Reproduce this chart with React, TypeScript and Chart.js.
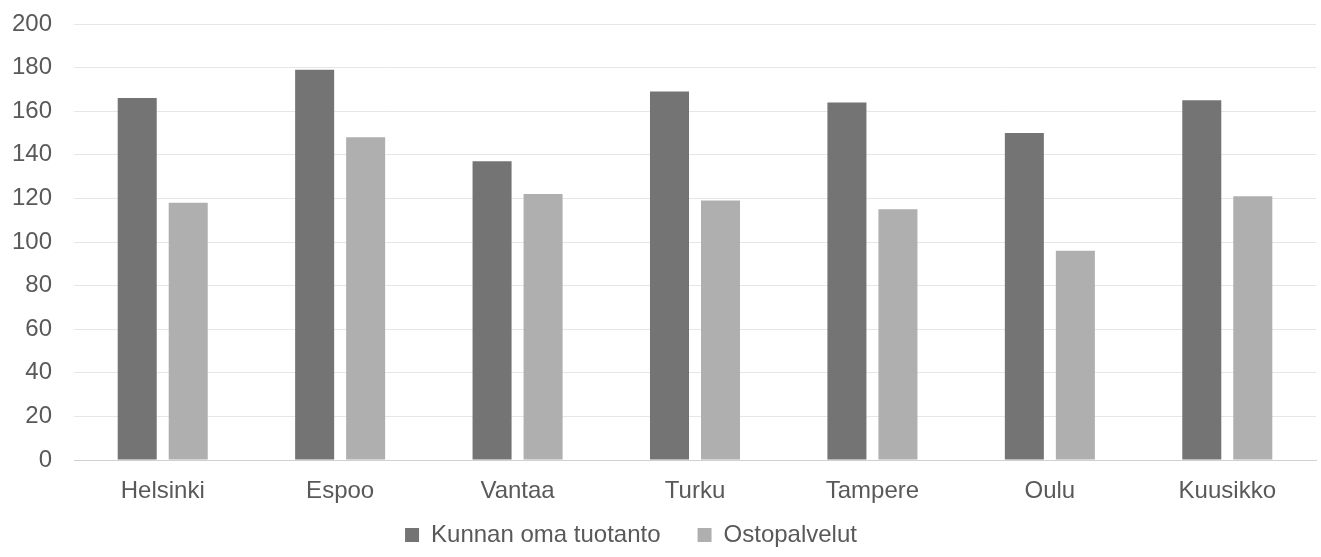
import React, { useEffect, useRef } from "react";
import { Chart, registerables } from "chart.js";

Chart.register(...registerables);

const categories = ["Helsinki", "Espoo", "Vantaa", "Turku", "Tampere", "Oulu", "Kuusikko"];
const seriesNames = ["Kunnan oma tuotanto", "Ostopalvelut"];
const omaTuotanto = [166, 179, 137, 169, 164, 150, 165];
const ostopalvelut = [118, 148, 122, 119, 115, 96, 121];
const yMin = 0;
const yMax = 200;
const yStep = 20;

const FONT = "'Liberation Sans', Arial, sans-serif";
const TEXT = "#595959";

export default function App() {
  const ref = useRef<HTMLCanvasElement | null>(null);

  useEffect(() => {
    if (!ref.current) return;
    const layoutTweaks = {
      id: "layoutTweaks",
      afterLayout(chart: any) {
        if (chart.legend) {
          chart.legend.left -= 27;
          chart.legend.right -= 27;
        }
        const x = chart.scales.x;
        if (x) x.bottom = chart.height;
      },
    };
    const chart = new Chart(ref.current, {
      type: "bar",
      data: {
        labels: categories,
        datasets: [
          {
            label: seriesNames[0],
            data: omaTuotanto,
            backgroundColor: "#747474",
            categoryPercentage: 0.575,
            barPercentage: 0.765,
          },
          {
            label: seriesNames[1],
            data: ostopalvelut,
            backgroundColor: "#afafaf",
            categoryPercentage: 0.575,
            barPercentage: 0.765,
          },
        ],
      },
      options: {
        responsive: false,
        animation: false,
        layout: { padding: { top: 24, right: 5, left: 0, bottom: 0 } },
        plugins: {
          tooltip: { enabled: false },
          legend: {
            position: "bottom",
            labels: {
              font: { family: FONT, size: 24 },
              color: TEXT,
              boxWidth: 14,
              boxHeight: 14,
              padding: 37,
            },
          },
        },
        scales: {
          x: {
            grid: { display: false, drawTicks: false },
            border: { display: true, color: "#d0d0d0" },
            ticks: {
              font: { family: FONT, size: 24 },
              color: TEXT,
              padding: 17,
            },
            afterFit(scale: any) {
              scale.height = 26;
            },
          },
          y: {
            min: yMin,
            max: yMax,
            ticks: {
              stepSize: yStep,
              font: { family: FONT, size: 24 },
              color: TEXT,
              padding: 22,
            },
            grid: {
              drawTicks: false,
              color: (ctx: any) => (ctx.tick && ctx.tick.value === 0 ? "#d0d0d0" : "#e6e6e6"),
            },
            border: { display: false },
            afterFit(scale: any) {
              scale.width = 74;
              scale.paddingTop = 0;
              scale.paddingBottom = 0;
            },
          },
        },
      },
      plugins: [layoutTweaks],
    });
    return () => chart.destroy();
  }, []);

  return (
    <div style={{ position: "absolute", left: 0, top: 0, width: 1321, height: 557, background: "#fff" }}>
      <canvas ref={ref} width={1321} height={557} style={{ width: 1321, height: 557, display: "block" }} />
    </div>
  );
}
